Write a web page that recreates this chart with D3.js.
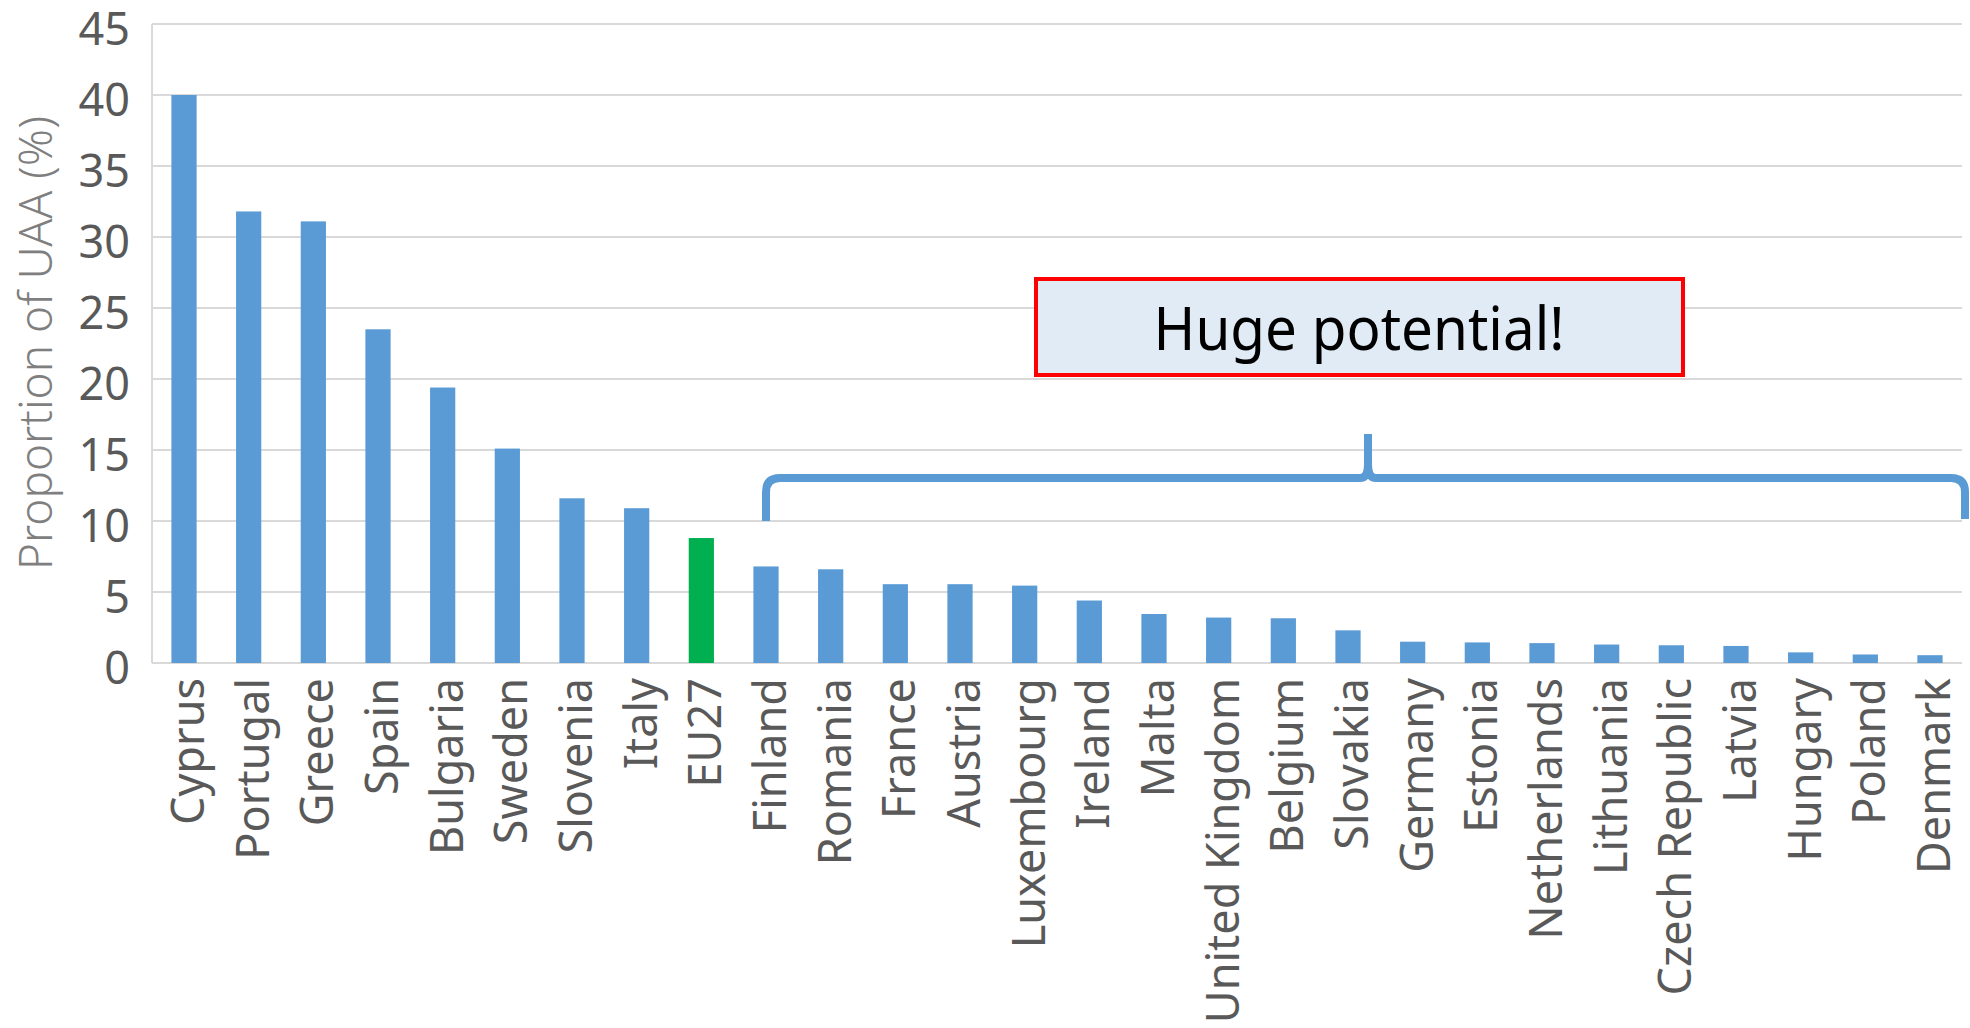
<!DOCTYPE html>
<html lang="en">
<head>
  <meta charset="UTF-8">
  <title>Proportion of UAA</title>
  <style>
    body { margin: 0; background: #fff; }
    svg { display: block; font-family: "Noto Sans", "Open Sans", sans-serif; }
    .grid line { stroke: #d9d9d9; stroke-width: 2px; }
    .tick-label { fill: #595959; font-size: 45px; }
  </style>
</head>
<body>
  <svg id="chart"></svg>
  <script src="https://d3js.org/d3.v7.min.js"></script>
  <script>
    const countries = ["Cyprus", "Portugal", "Greece", "Spain", "Bulgaria", "Sweden", "Slovenia", "Italy", "EU27",
      "Finland", "Romania", "France", "Austria", "Luxembourg", "Ireland", "Malta", "United Kingdom", "Belgium",
      "Slovakia", "Germany", "Estonia", "Netherlands", "Lithuania", "Czech Republic", "Latvia", "Hungary", "Poland", "Denmark"];
    const shares = [40.0, 31.8, 31.1, 23.5, 19.4, 15.1, 11.6, 10.9, 8.8,
      6.8, 6.6, 5.55, 5.55, 5.45, 4.4, 3.45, 3.2, 3.15,
      2.3, 1.5, 1.45, 1.4, 1.3, 1.25, 1.2, 0.75, 0.6, 0.55];
    const yTicks = [0, 5, 10, 15, 20, 25, 30, 35, 40, 45];
    const highlight = "EU27";
    const braceFrom = "Finland";
    const note = "Huge potential!";

    const W = 1970, H = 1028;
    const mLeft = 152, mRight = 1962, mTop = 24, mBottom = 663;

    const svg = d3.select("#chart").attr("width", W).attr("height", H);

    const x = d3.scaleBand().domain(countries).range([mLeft, mRight]).paddingInner(0.61).paddingOuter(0.3);
    const y = d3.scaleLinear().domain([0, 45]).range([mBottom, mTop]);

    // gridlines
    svg.append("g").attr("class", "grid")
      .selectAll("line").data(yTicks).enter().append("line")
      .attr("x1", mLeft).attr("x2", mRight)
      .attr("y1", d => y(d)).attr("y2", d => y(d));
    svg.append("line").attr("x1", mLeft).attr("x2", mLeft).attr("y1", mTop).attr("y2", mBottom)
      .attr("stroke", "#d9d9d9").attr("stroke-width", 2);

    // y tick labels
    svg.append("g").selectAll("text").data(yTicks).enter().append("text")
      .attr("class", "tick-label")
      .attr("x", mLeft - 22).attr("y", d => y(d) + 5)
      .attr("dy", "0.35em").attr("text-anchor", "end")
      .text(d => d);

    // bars
    svg.append("g").selectAll("rect").data(countries).enter().append("rect")
      .attr("x", d => x(d)).attr("width", x.bandwidth())
      .attr("y", (d, i) => y(shares[i]))
      .attr("height", (d, i) => y(0) - y(shares[i]))
      .attr("fill", d => d === highlight ? "#00b050" : "#5b9bd5");

    // x labels
    svg.append("g").selectAll("text").data(countries).enter().append("text")
      .attr("class", "tick-label")
      .attr("transform", d => `translate(${x(d) + x.bandwidth() / 2 + 20},${mBottom + 15}) rotate(-90)`)
      .attr("text-anchor", "end")
      .text(d => d);

    // y axis title
    svg.append("text")
      .attr("transform", `translate(52,343) rotate(-90)`)
      .attr("text-anchor", "middle")
      .attr("fill", "#7f7f7f").attr("font-size", 46).attr("font-weight", 300)
      .text("Proportion of UAA (%)");

    // brace
    const x1 = x(braceFrom) + x.bandwidth() / 2, x2 = mRight + 3;
    const xm = 1368, yb = y(10), yh = 478, ys = 434;
    svg.append("path")
      .attr("d", `M${x1},${yb} L${x1},${yh + 14} Q${x1},${yh} ${x1 + 14},${yh} L${xm - 8},${yh} Q${xm},${yh} ${xm},${yh - 14} L${xm},${ys}
                  M${xm},${yh - 14} Q${xm},${yh} ${xm + 8},${yh} L${x2 - 14},${yh} Q${x2},${yh} ${x2},${yh + 14} L${x2},${yb - 2}`)
      .attr("fill", "none").attr("stroke", "#5b9bd5").attr("stroke-width", 8);

    // callout box
    svg.append("rect")
      .attr("x", 1036).attr("y", 279).attr("width", 647).attr("height", 96)
      .attr("fill", "#e1ebf6").attr("stroke", "#ff0000").attr("stroke-width", 4);
    svg.append("text")
      .attr("x", 1359).attr("y", 350)
      .attr("text-anchor", "middle")
      .attr("font-size", 60).attr("fill", "#000")
      .attr("textLength", 411).attr("lengthAdjust", "spacingAndGlyphs")
      .text(note);
  </script>
</body>
</html>
